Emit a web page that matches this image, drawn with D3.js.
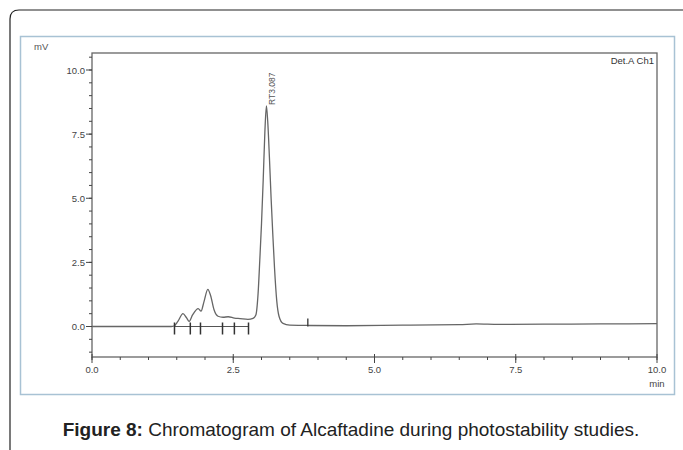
<!DOCTYPE html>
<html lang="en">
  <head>
    <meta charset="UTF-8" />
    <title>Chromatogram of Alcaftadine</title>
    <style>
      body { margin: 0; background: #fff; }
      text { font-family: "Liberation Sans", Arial, sans-serif; }
    </style>
  </head>
  <body>
    <script src="https://d3js.org/d3.v7.min.js"></script>
    <script>
      const width = 683
      const height = 450

      // retention time (min) and detector signal (mV)
      const time = [0, 0.5, 1.0, 1.4, 1.45, 1.52, 1.61, 1.67, 1.72, 1.78, 1.88, 1.93, 1.98, 2.05, 2.1, 2.16, 2.23, 2.32, 2.41, 2.52, 2.62, 2.76, 2.85, 2.9, 2.94, 2.97, 3.0, 3.03, 3.06, 3.087, 3.11, 3.14, 3.17, 3.2, 3.23, 3.27, 3.31, 3.38, 3.5, 3.8, 4.5, 5.5, 6.5, 6.8, 7.2, 8, 9, 10]
      const signal = [0.0, 0.0, 0.0, 0.0, 0.02, 0.2, 0.5, 0.35, 0.2, 0.45, 0.7, 0.6, 0.95, 1.45, 1.2, 0.65, 0.4, 0.36, 0.38, 0.33, 0.31, 0.28, 0.32, 0.45, 1.3, 2.6, 4.0, 5.7, 7.6, 8.6, 8.0, 6.6, 5.0, 3.6, 2.3, 1.0, 0.4, 0.12, 0.05, 0.04, 0.03, 0.05, 0.07, 0.1, 0.08, 0.09, 0.1, 0.11]
      // integration markers
      const markTimes = [1.46, 1.74, 1.92, 2.31, 2.52, 2.77]
      const endMark = 3.82
      const peakLabel = "RT3.087"
      const peakTime = 3.087
      const peakValue = 8.6
      const xTicks = [0, 2.5, 5, 7.5, 10]
      const yTicks = [0, 2.5, 5, 7.5, 10]

      const svg = d3.select("body").append("svg")
        .attr("width", width)
        .attr("height", height)

      // outer frame with rounded top-left corner
      svg.append("path")
        .attr("d", "M10,450 L10,19 Q10,10 19,10 L683,10")
        .attr("fill", "none")
        .attr("stroke", "#222")
        .attr("stroke-width", 1.2)

      // light blue panel
      svg.append("rect")
        .attr("x", 20.5).attr("y", 36.5)
        .attr("width", 654).attr("height", 358)
        .attr("fill", "#fff")
        .attr("stroke", "#a8c2d4")
        .attr("stroke-width", 1.5)

      const pLeft = 92, pRight = 657, pTop = 53, pBottom = 357

      const x = d3.scaleLinear().domain([0, 10]).range([pLeft, pRight])
      const y = d3.scaleLinear().domain([0, 10]).range([326.5, 70])

      const g = svg.append("g")

      // plot frame
      g.append("rect")
        .attr("x", pLeft).attr("y", pTop)
        .attr("width", pRight - pLeft).attr("height", pBottom - pTop)
        .attr("fill", "none")
        .attr("stroke", "#666")
        .attr("stroke-width", 1.3)

      // x axis
      const xMinor = d3.range(0, 10.01, 0.5)
      g.selectAll(".xminor").data(xMinor).join("line")
        .attr("x1", d => x(d)).attr("x2", d => x(d))
        .attr("y1", pBottom).attr("y2", pBottom + 3)
        .attr("stroke", "#444")
      g.selectAll(".xmajor").data(xTicks).join("line")
        .attr("x1", d => x(d)).attr("x2", d => x(d))
        .attr("y1", pBottom - 3).attr("y2", pBottom + 6)
        .attr("stroke", "#444")
      g.selectAll(".xlab").data(xTicks).join("text")
        .attr("x", d => x(d)).attr("y", pBottom + 16)
        .attr("text-anchor", "middle")
        .attr("font-size", 9.5)
        .attr("fill", "#444")
        .text(d => d.toFixed(1))
      g.append("text")
        .attr("x", pRight).attr("y", pBottom + 30)
        .attr("text-anchor", "middle")
        .attr("font-size", 9.5)
        .attr("fill", "#444")
        .text("min")

      // y axis
      const yMinor = d3.range(-1, 10.51, 0.5)
      g.selectAll(".yminor").data(yMinor).join("line")
        .attr("x1", pLeft - 3).attr("x2", pLeft)
        .attr("y1", d => y(d)).attr("y2", d => y(d))
        .attr("stroke", "#444")
      g.selectAll(".ymajor").data(yTicks).join("line")
        .attr("x1", pLeft - 6).attr("x2", pLeft)
        .attr("y1", d => y(d)).attr("y2", d => y(d))
        .attr("stroke", "#444")
      g.selectAll(".ylab").data(yTicks).join("text")
        .attr("x", pLeft - 7).attr("y", d => y(d) + 3.5)
        .attr("text-anchor", "end")
        .attr("font-size", 9.5)
        .attr("fill", "#444")
        .text(d => d.toFixed(1))
      g.append("text")
        .attr("x", 34).attr("y", 50)
        .attr("font-size", 9.5)
        .attr("fill", "#555")
        .text("mV")

      g.append("text")
        .attr("x", pRight - 3).attr("y", 64)
        .attr("text-anchor", "end")
        .attr("font-size", 9.5)
        .attr("fill", "#333")
        .text("Det.A Ch1")

      // trace
      const pts = time.map((t, i) => [t, signal[i]])
      const line = d3.line()
        .x(d => x(d[0]))
        .y(d => y(d[1]))
        .curve(d3.curveMonotoneX)
      g.append("path")
        .datum(pts)
        .attr("d", line)
        .attr("fill", "none")
        .attr("stroke", "#666")
        .attr("stroke-width", 1.3)

      // integration baseline and markers
      g.append("line")
        .attr("x1", x(markTimes[0])).attr("x2", x(markTimes[markTimes.length - 1]))
        .attr("y1", y(0)).attr("y2", y(0))
        .attr("stroke", "#555")
      g.selectAll(".mark").data(markTimes).join("line")
        .attr("x1", d => x(d)).attr("x2", d => x(d))
        .attr("y1", y(0) - 4).attr("y2", y(0) + 8)
        .attr("stroke", "#333")
        .attr("stroke-width", 1.5)
      g.append("line")
        .attr("x1", x(endMark)).attr("x2", x(endMark))
        .attr("y1", y(0) - 8).attr("y2", y(0))
        .attr("stroke", "#333")
        .attr("stroke-width", 1.3)

      // peak label
      g.append("text")
        .attr("transform", `translate(${x(peakTime) + 9},${y(peakValue) - 1}) rotate(-90)`)
        .attr("font-size", 8.5)
        .attr("fill", "#555")
        .text(peakLabel)

      // caption
      const cap = svg.append("text")
        .attr("x", 351).attr("y", 436)
        .attr("text-anchor", "middle")
        .attr("font-size", 19)
        .attr("fill", "#222")
      cap.append("tspan").attr("font-weight", "bold").text("Figure 8:")
      cap.append("tspan").text(" Chromatogram of Alcaftadine during photostability studies.")
    </script>
  </body>
</html>
